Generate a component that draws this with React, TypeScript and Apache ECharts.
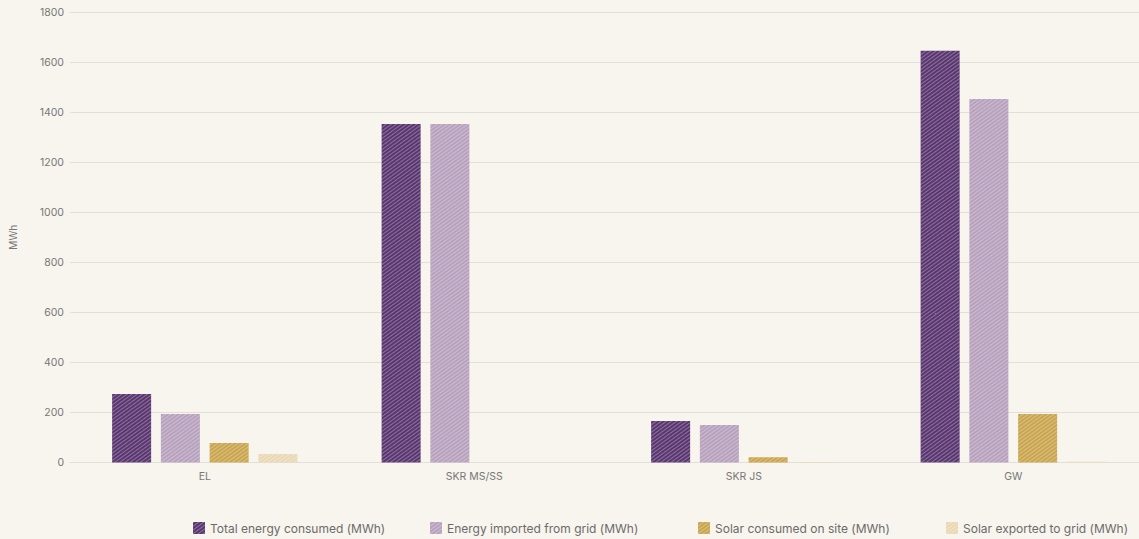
import React, { useEffect, useRef } from "react";
import * as echarts from "echarts";

const categories = ["EL", "SKR MS/SS", "SKR JS", "GW"];
const seriesNames = [
  "Total energy consumed (MWh)",
  "Energy imported from grid (MWh)",
  "Solar consumed on site (MWh)",
  "Solar exported to grid (MWh)",
];
const totalConsumed = [274, 1352, 166, 1645];
const importedFromGrid = [194, 1352, 150, 1452];
const solarConsumed = [78, 0, 21, 194];
const solarExported = [34, 0, 2, 3];
const colors = ["#5a3670", "#b7a1bd", "#c9a54e", "#e9d8b4"];
const legendLefts = [193, 430, 698, 946];

export default function App() {
  const ref = useRef<HTMLDivElement>(null);
  useEffect(() => {
    document.body.style.margin = "0";
    document.body.style.overflow = "hidden";
    const chart = echarts.init(ref.current!, null, { renderer: "svg" });
    const data = [totalConsumed, importedFromGrid, solarConsumed, solarExported];
    const decal = {
      symbol: "rect",
      symbolSize: 1,
      color: "rgba(255,255,255,0.3)",
      dashArrayX: [1, 0],
      dashArrayY: [1, 2],
      rotation: -Math.PI / 5,
    };
    chart.setOption({
      animation: false,
      backgroundColor: "#f8f5ee",
      textStyle: { fontFamily: "Inter, sans-serif" },
      grid: { left: 68, right: 0, top: 12, bottom: 76.5, containLabel: false },
      legend: seriesNames.map((name, i) => ({
        left: legendLefts[i],
        bottom: 5,
        padding: 0,
        itemWidth: 12,
        itemHeight: 12,
        itemGap: 5,
        icon: "rect",
        textStyle: { color: "#6b6b6b", fontSize: 12, fontFamily: "Inter, sans-serif" },
        data: [name],
      })),
      xAxis: {
        type: "category",
        data: categories,
        axisLine: { show: true, lineStyle: { color: "#e2dfd9", width: 1 } },
        axisTick: { show: false },
        axisLabel: { color: "#777", fontSize: 10.5, margin: 8 },
      },
      yAxis: {
        type: "value",
        min: 0,
        max: 1800,
        interval: 200,
        name: "MWh",
        nameLocation: "middle",
        nameGap: 52,
        nameTextStyle: { color: "#777", fontSize: 10 },
        axisLine: { show: false },
        axisTick: { show: false },
        axisLabel: {
          color: "#777",
          fontSize: 10.5,
          margin: 6,
          formatter: (v: number) => String(v),
        },
        splitLine: { lineStyle: { color: "#e2dfd9", width: 1 } },
      },
      series: seriesNames.map((name, i) => ({
        name,
        type: "bar",
        data: data[i],
        barWidth: 39,
        barGap: "25%",
        itemStyle: { color: colors[i], decal },
      })),
    });
    return () => chart.dispose();
  }, []);
  return (
    <div
      ref={ref}
      style={{ position: "absolute", left: 0, top: 0, width: 1148, height: 539 }}
    />
  );
}
